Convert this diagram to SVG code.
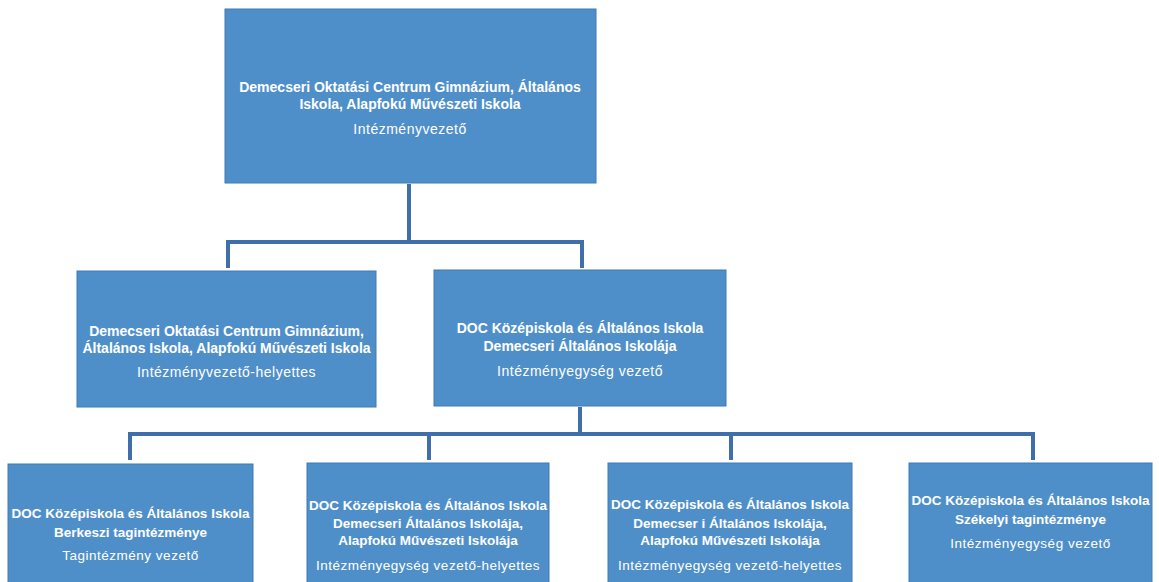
<svg xmlns="http://www.w3.org/2000/svg" width="1159" height="582" viewBox="0 0 1159 582">
<style>
.box{fill:#4f8fc9;stroke:#3f7bb3;stroke-width:1}
.t{font-family:"Liberation Sans",Arial,sans-serif;font-weight:bold;fill:#ffffff;text-anchor:middle;dominant-baseline:central}
.r{font-family:"Liberation Sans",Arial,sans-serif;fill:#ffffff;text-anchor:middle;dominant-baseline:central;letter-spacing:0.5px}
.s14{font-size:14px}
.s13{font-size:13.5px}
.conn{fill:none;stroke:#3e6fab;stroke-width:4;stroke-linejoin:miter}
</style>
<rect width="1159" height="582" fill="#ffffff"/>
<g id="connectors">
<path class="conn" d="M409 184 V242 M228 268 V242 H582 V268"/>
<path class="conn" d="M580 407 V434 M130 460 V434 H1033 V460 M429 434 V460 M731 434 V460"/>
</g>
<g id="n-top">
<rect class="box" x="225" y="9" width="371" height="174"/>
<text class="t s14" x="410" y="87">Demecseri Oktatási Centrum Gimnázium, Általános</text>
<text class="t s14" x="410" y="104">Iskola, Alapfokú Művészeti Iskola</text>
<text class="r s14" x="410" y="129">Intézményvezető</text>
</g>
<g id="n-helyettes">
<rect class="box" x="77" y="271" width="299" height="136"/>
<text class="t s14" x="226.5" y="331">Demecseri Oktatási Centrum Gimnázium,</text>
<text class="t s14" x="226.5" y="348">Általános Iskola, Alapfokú Művészeti Iskola</text>
<text class="r s14" x="226.5" y="372">Intézményvezető-helyettes</text>
</g>
<g id="n-egyseg">
<rect class="box" x="434" y="270" width="292" height="136"/>
<text class="t s14" x="580" y="328">DOC Középiskola és Általános Iskola</text>
<text class="t s14" x="580" y="346">Demecseri Általános Iskolája</text>
<text class="r s14" x="580" y="371">Intézményegység vezető</text>
</g>
<g id="n-berkesz">
<rect class="box" x="8" y="464" width="245" height="125"/>
<text class="t s13" x="130.5" y="513">DOC Középiskola és Általános Iskola</text>
<text class="t s13" x="130.5" y="532">Berkeszi tagintézménye</text>
<text class="r s13" x="130.5" y="555">Tagintézmény vezető</text>
</g>
<g id="n-demecser-h1">
<rect class="box" x="307" y="463" width="242" height="126"/>
<text class="t s13" x="428" y="505">DOC Középiskola és Általános Iskola</text>
<text class="t s13" x="428" y="523">Demecseri Általános Iskolája,</text>
<text class="t s13" x="428" y="540">Alapfokú Művészeti Iskolája</text>
<text class="r s13" x="428" y="565">Intézményegység vezető-helyettes</text>
</g>
<g id="n-demecser-h2">
<rect class="box" x="608" y="463" width="244" height="126"/>
<text class="t s13" x="730" y="504">DOC Középiskola és Általános Iskola</text>
<text class="t s13" x="730" y="523">Demecser i Általános Iskolája,</text>
<text class="t s13" x="730" y="540">Alapfokú Művészeti Iskolája</text>
<text class="r s13" x="730" y="565">Intézményegység vezető-helyettes</text>
</g>
<g id="n-szekely">
<rect class="box" x="909" y="463" width="243" height="126"/>
<text class="t s13" x="1030.5" y="500">DOC Középiskola és Általános Iskola</text>
<text class="t s13" x="1030.5" y="519">Székelyi tagintézménye</text>
<text class="r s13" x="1030.5" y="543">Intézményegység vezető</text>
</g>
</svg>
